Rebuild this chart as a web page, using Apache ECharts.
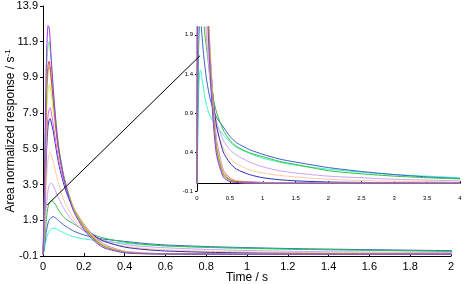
<!DOCTYPE html>
<html><head><meta charset="utf-8">
<script src="https://cdn.jsdelivr.net/npm/echarts@6/dist/echarts.min.js"></script>
<style>html,body{margin:0;padding:0;background:#fff}#c{width:464px;height:284px}</style>
</head><body><div id="c"></div>
<script>
// time points (s)
const times = [0, 0.005, 0.01, 0.015, 0.02, 0.025, 0.03, 0.035, 0.04, 0.05, 0.06, 0.07, 0.08, 0.1, 0.12, 0.15, 0.2, 0.25, 0.3, 0.4, 0.5, 0.6, 0.8, 1.0, 1.25, 1.5, 2, 2.5, 3, 3.5, 4];
// area normalized responses (1/s)
const purple  = [0, 2.5, 6.5, 10.0, 12.0, 12.8, 12.7, 12.0, 11.0, 9.3, 7.8, 6.6, 5.7, 4.4, 3.5, 2.4, 1.4, 0.75, 0.35, 0.08, 0.02, 0.01, 0, 0, 0, 0, 0, 0, 0, 0, 0];
const lime    = [0, 2.0, 5.5, 8.8, 10.9, 11.7, 11.9, 11.5, 10.8, 9.3, 7.9, 6.7, 5.8, 4.5, 3.6, 2.5, 1.5, 0.8, 0.4, 0.1, 0.03, 0.01, 0, 0, 0, 0, 0, 0, 0, 0, 0];
const red     = [0, 1.8, 5.0, 8.0, 9.9, 10.6, 10.8, 10.5, 9.9, 8.7, 7.5, 6.4, 5.6, 4.4, 3.5, 2.5, 1.5, 0.85, 0.42, 0.11, 0.04, 0.02, 0.01, 0, 0, 0, 0, 0, 0, 0, 0];
const orange  = [0, 1.6, 4.6, 7.5, 9.4, 10.2, 10.5, 10.3, 9.8, 8.7, 7.6, 6.5, 5.7, 4.5, 3.6, 2.6, 1.6, 0.9, 0.45, 0.13, 0.05, 0.02, 0.01, 0, 0, 0, 0, 0, 0, 0, 0];
const yellow  = [0, 1.4, 4.0, 6.7, 8.4, 9.2, 9.5, 9.4, 9.0, 8.1, 7.1, 6.2, 5.4, 4.4, 3.6, 2.6, 1.65, 0.95, 0.5, 0.15, 0.06, 0.03, 0.01, 0.01, 0, 0, 0, 0, 0, 0, 0];
const magenta = [0, 1.2, 3.4, 5.6, 7.0, 7.8, 8.1, 8.2, 8.0, 7.3, 6.5, 5.8, 5.1, 4.2, 3.5, 2.6, 1.7, 1.0, 0.55, 0.17, 0.07, 0.03, 0.02, 0.01, 0, 0, 0, 0, 0, 0, 0];
const navy    = [0, 1.0, 3.0, 5.0, 6.4, 7.2, 7.5, 7.6, 7.4, 6.9, 6.2, 5.5, 4.9, 4.0, 3.3, 2.5, 1.6, 1.05, 0.72, 0.4, 0.26, 0.18, 0.11, 0.07, 0.045, 0.03, 0.015, 0.01, 0.005, 0, 0];
const peach   = [0, 0.7, 2.1, 3.6, 4.7, 5.3, 5.6, 5.7, 5.6, 5.2, 4.7, 4.2, 3.8, 3.1, 2.6, 2.0, 1.35, 0.95, 0.7, 0.45, 0.32, 0.25, 0.17, 0.13, 0.1, 0.08, 0.05, 0.035, 0.025, 0.02, 0.015];
const lavender= [0, 0.5, 1.4, 2.4, 3.1, 3.6, 3.85, 3.95, 4.0, 3.85, 3.6, 3.3, 3.05, 2.6, 2.25, 1.8, 1.3, 0.98, 0.78, 0.55, 0.43, 0.36, 0.27, 0.21, 0.16, 0.13, 0.09, 0.07, 0.05, 0.04, 0.03];
const green   = [0, 0.35, 1.0, 1.7, 2.3, 2.65, 2.85, 2.95, 3.0, 2.95, 2.8, 2.6, 2.4, 2.1, 1.9, 1.7, 1.35, 1.08, 0.9, 0.68, 0.55, 0.47, 0.39, 0.34, 0.28, 0.24, 0.16, 0.12, 0.09, 0.07, 0.055];
const blue    = [0, 0.25, 0.7, 1.15, 1.5, 1.75, 1.9, 2.0, 2.05, 2.1, 2.05, 1.95, 1.85, 1.65, 1.5, 1.3, 1.08, 0.94, 0.84, 0.72, 0.6, 0.52, 0.43, 0.37, 0.31, 0.27, 0.2, 0.15, 0.11, 0.08, 0.06];
const aqua    = [0, 0.15, 0.45, 0.75, 1.0, 1.15, 1.27, 1.35, 1.4, 1.45, 1.44, 1.38, 1.32, 1.22, 1.1, 0.98, 0.86, 0.78, 0.72, 0.62, 0.53, 0.46, 0.38, 0.32, 0.27, 0.23, 0.18, 0.14, 0.11, 0.09, 0.07];
// connector from main plot to inset (main-plot data coordinates)
const connector = [[0.02, 2.75], [0.77, 11.12]];
// tick settings
const mainXTicks = {min: 0, max: 2, interval: 0.2};
const mainYTicks = {min: -0.1, max: 13.9, interval: 2};
const insetXTicks = {min: 0, max: 4, interval: 0.5};
const insetYTicks = {min: -0.1, max: 2.0, interval: 0.5};

const seriesList = [
  ['aqua', aqua, '#3cf5c8'],
  ['blue', blue, '#3a5fcd'],
  ['green', green, '#33c040'],
  ['lavender', lavender, '#c9a0ff'],
  ['peach', peach, '#ffc8a0'],
  ['navy', navy, '#2a2ab8'],
  ['magenta', magenta, '#e060ff'],
  ['yellow', yellow, '#c8f040'],
  ['orange', orange, '#f0a040'],
  ['red', red, '#c83c3c'],
  ['lime', lime, '#60f060'],
  ['purple', purple, '#9a30f0']
];

const font = 'Liberation Sans, Arial, sans-serif';
const series = [];
seriesList.forEach(([name, vals, color]) => {
  const data = times.map((t, i) => [t, vals[i]]);
  [0, 1].forEach(g => {
    series.push({
      name: name, type: 'line', xAxisIndex: g, yAxisIndex: g, data: data,
      showSymbol: false, smooth: 0.25, clip: true,
      lineStyle: {width: 1, color: color}, itemStyle: {color: color}
    });
  });
});
series.push({
  type: 'line', xAxisIndex: 0, yAxisIndex: 0, data: connector, showSymbol: false,
  clip: false, lineStyle: {width: 1, color: '#000'}, z: 5
});

const chart = echarts.init(document.getElementById('c'), null, {renderer: 'canvas'});
chart.setOption({
  animation: false,
  backgroundColor: '#fff',
  grid: [
    {left: 43, right: 13, top: 6, bottom: 28, containLabel: false, outerBoundsMode: 'none'},
    {left: 197, right: 4, top: 27, bottom: 93, containLabel: false, outerBoundsMode: 'none'}
  ],
  xAxis: [
    {type: 'value', gridIndex: 0, ...mainXTicks,
     name: 'Time / s', nameLocation: 'middle', nameGap: 16, nameMoveOverlap: false,
     nameTextStyle: {fontFamily: font, fontSize: 12, color: '#000'},
     axisLine: {onZero: false, lineStyle: {color: '#000', width: 1}},
     axisTick: {inside: true, length: 3, lineStyle: {color: '#000'}},
     axisLabel: {fontFamily: font, fontSize: 11, color: '#000', margin: 5},
     splitLine: {show: false}},
    {type: 'value', gridIndex: 1, ...insetXTicks,
     axisLine: {onZero: true, lineStyle: {color: '#000', width: 1}},
     axisTick: {inside: true, length: 2, lineStyle: {color: '#000'}},
     axisLabel: {fontFamily: font, fontSize: 6, color: '#000', margin: 4},
     splitLine: {show: false}}
  ],
  yAxis: [
    {type: 'value', gridIndex: 0, ...mainYTicks,
     name: 'Area normalized response / s{sup|-1}', nameLocation: 'middle', nameGap: 25, nameMoveOverlap: false,
     nameTextStyle: {fontFamily: font, fontSize: 12, color: '#000',
       rich: {sup: {fontFamily: font, fontSize: 8, color: '#000', verticalAlign: 'top', padding: [0, 0, 6, 0]}}},
     axisLine: {show: true, onZero: false, lineStyle: {color: '#000', width: 1}},
     axisTick: {show: true, length: 3, lineStyle: {color: '#000'}},
     axisLabel: {fontFamily: font, fontSize: 11, color: '#000', margin: 5,
       formatter: v => v.toFixed(1)},
     splitLine: {show: false}},
    {type: 'value', gridIndex: 1, ...insetYTicks,
     axisLine: {show: true, onZero: false, lineStyle: {color: '#000', width: 1}},
     axisTick: {show: true, length: 2, lineStyle: {color: '#000'}},
     axisLabel: {fontFamily: font, fontSize: 6, color: '#000', margin: 4, showMaxLabel: false,
       formatter: v => v.toFixed(1)},
     splitLine: {show: false}}
  ],
  series: series
});
</script>
</body></html>
